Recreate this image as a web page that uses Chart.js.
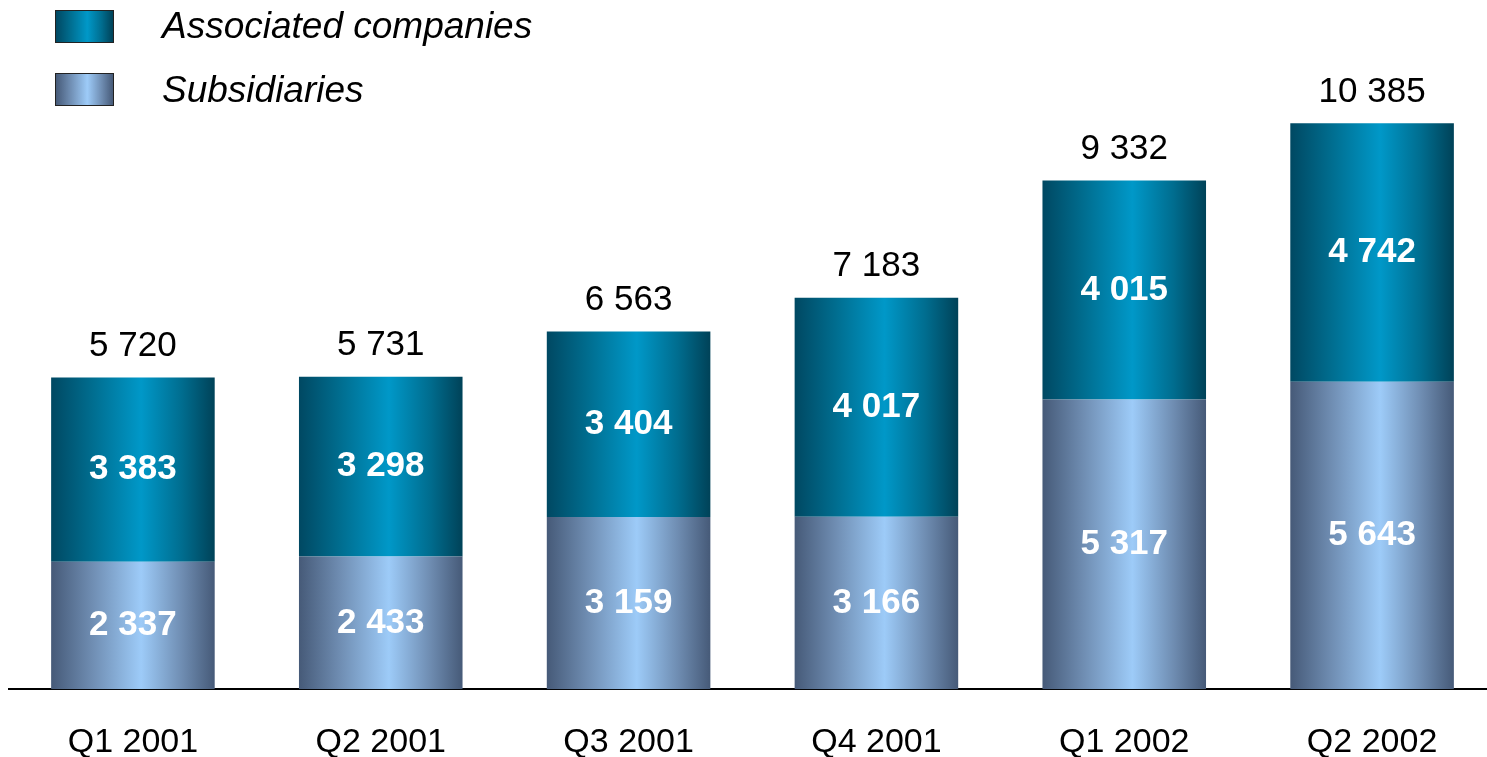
<!DOCTYPE html>
<html lang="en">
<head>
    <meta charset="UTF-8">
    <title>Associated companies and subsidiaries</title>
    <script src="https://cdn.jsdelivr.net/npm/chart.js"></script>
    <style>
        body {
            margin: 0;
            overflow: hidden;
            background: #fff;
            font-family: "Liberation Sans", Arial, sans-serif;
        }
        #wrap {
            position: relative;
            width: 1496px;
            height: 757px;
            overflow: hidden;
        }
        .legend {
            position: absolute;
            left: 55px;
            font-style: italic;
            font-size: 37px;
            color: #000;
        }
        .legend span.box {
            position: absolute;
            left: 0;
            width: 57px;
            height: 31px;
            border: 1px solid #222;
        }
        .legend span.txt {
            position: absolute;
            left: 107px;
            white-space: nowrap;
            line-height: 40px;
        }
    </style>
</head>
<body>
<div id="wrap">
    <canvas id="barChart" width="1496" height="796"></canvas>
    <div class="legend" style="top:10px">
        <span class="box" style="background:linear-gradient(to right,#004862,#006d8f 25%,#0098c8 55%,#006d8f 80%,#004258)"></span>
        <span class="txt" style="top:-4px">Associated companies</span>
    </div>
    <div class="legend" style="top:73px">
        <span class="box" style="background:linear-gradient(to right,#465a78,#6f8db2 25%,#9dcbf8 55%,#6f8db2 80%,#465a78)"></span>
        <span class="txt" style="top:-3px">Subsidiaries</span>
    </div>
</div>

<script>
    const quarters = ['Q1 2001', 'Q2 2001', 'Q3 2001', 'Q4 2001', 'Q1 2002', 'Q2 2002'];
    const subsidiaries = [2337, 2433, 3159, 3166, 5317, 5643];
    const associated = [3383, 3298, 3404, 4017, 4015, 4742];
    const totals = [5720, 5731, 6563, 7183, 9332, 10385];

    const barPct = 0.66;

    function fmt(v) {
        return String(v).replace(/\B(?=(\d{3})+(?!\d))/g, ' ');
    }

    // horizontal "cylinder" gradient for each bar
    function barGradient(ctx, stops) {
        const chart = ctx.chart;
        const area = chart.chartArea;
        if (!area) return stops[2];
        const xs = chart.scales.x;
        const cx = xs.getPixelForValue(ctx.dataIndex);
        const w = (area.right - area.left) / quarters.length * barPct;
        const g = chart.ctx.createLinearGradient(cx - w / 2, 0, cx + w / 2, 0);
        g.addColorStop(0, stops[0]);
        g.addColorStop(0.25, stops[1]);
        g.addColorStop(0.55, stops[2]);
        g.addColorStop(0.8, stops[1]);
        g.addColorStop(1, stops[3]);
        return g;
    }

    const labelPlugin = {
        id: 'labels',
        afterDatasetsDraw(chart) {
            const c = chart.ctx;
            c.save();
            c.textAlign = 'center';
            c.textBaseline = 'middle';
            c.fillStyle = '#fff';
            c.font = 'bold 35px "Liberation Sans", Arial, sans-serif';
            chart.data.datasets.forEach((ds, di) => {
                chart.getDatasetMeta(di).data.forEach((el, i) => {
                    c.fillText(fmt(ds.data[i]), el.x, (el.y + el.base) / 2);
                });
            });
            c.fillStyle = '#000';
            c.font = '35px "Liberation Sans", Arial, sans-serif';
            const top = chart.getDatasetMeta(1).data;
            totals.forEach((t, i) => {
                c.fillText(fmt(t), top[i].x, top[i].y - 31);
            });
            c.restore();
        }
    };

    new Chart(document.getElementById('barChart'), {
        type: 'bar',
        data: {
            labels: quarters,
            datasets: [
                {
                    label: 'Subsidiaries',
                    data: subsidiaries,
                    backgroundColor: ctx => barGradient(ctx, ['#465a78', '#6f8db2', '#9dcbf8', '#465a78'])
                },
                {
                    label: 'Associated companies',
                    data: associated,
                    backgroundColor: ctx => barGradient(ctx, ['#004862', '#006d8f', '#0098c8', '#004258'])
                }
            ]
        },
        options: {
            responsive: false,
            animation: false,
            devicePixelRatio: 1,
            layout: { padding: { left: 9, top: 0, right: 0, bottom: 0 } },
            datasets: {
                bar: { barPercentage: barPct, categoryPercentage: 1, borderWidth: 0 }
            },
            plugins: {
                legend: { display: false },
                tooltip: { enabled: false }
            },
            scales: {
                x: {
                    stacked: true,
                    grid: { display: false, drawTicks: false },
                    border: { display: true, color: '#000', width: 2 },
                    ticks: {
                        color: '#000',
                        padding: 33,
                        font: { family: '"Liberation Sans", Arial, sans-serif', size: 34 }
                    }
                },
                y: {
                    stacked: true,
                    display: false,
                    min: 0,
                    max: 12645
                }
            }
        },
        plugins: [labelPlugin]
    });
</script>
</body>
</html>
